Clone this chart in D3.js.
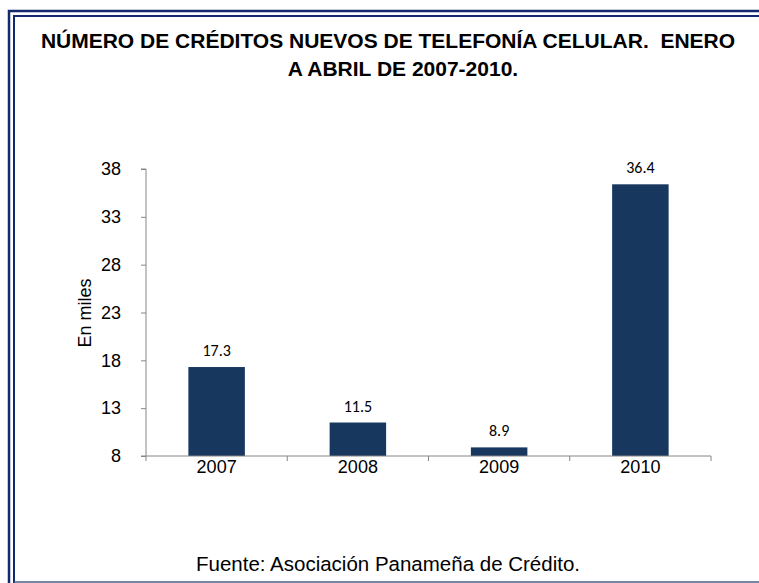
<!DOCTYPE html>
<html>
<head>
<meta charset="utf-8">
<script src="https://cdn.jsdelivr.net/npm/d3@7"></script>
<style>
  body { margin: 0; background: #fff; }
  svg { display: block; }
</style>
</head>
<body>
<script>
var width = 759;
var height = 583;
var barColor = "rgb(23,55,94)";
var axisColor = "rgb(134,134,134)";
var frameColor = "rgb(20,40,110)";
var sansFont = "'Liberation Sans', Arial, sans-serif";

// chart values
var years = ["2007", "2008", "2009", "2010"];
var credits = [17.3, 11.5, 8.9, 36.4];
var yTicks = [8, 13, 18, 23, 28, 33, 38];
var titleLines = ["NÚMERO DE CRÉDITOS NUEVOS DE TELEFONÍA CELULAR.  ENERO", "A ABRIL DE 2007-2010."];
var yTitle = "En miles";
var sourceText = "Fuente: Asociación Panameña de Crédito.";

var plotLeft = 146, plotRight = 711, plotTop = 169, plotBottom = 456;

var svg = d3.select("body").append("svg")
  .attr("width", width)
  .attr("height", height);

svg.append("rect")
  .attr("width", width).attr("height", height)
  .attr("fill", "#fff");

// double frame
svg.append("path")
  .attr("d", "M9," + height + " V11 H" + (width + 5))
  .attr("fill", "none")
  .attr("stroke", frameColor)
  .attr("stroke-width", 2.5);
svg.append("path")
  .attr("d", "M14," + height + " V16 H" + (width + 5))
  .attr("fill", "none")
  .attr("stroke", frameColor)
  .attr("stroke-width", 2);
svg.append("line")
  .attr("x1", 14).attr("x2", width)
  .attr("y1", 582).attr("y2", 582)
  .attr("stroke", "rgb(70,95,140)")
  .attr("stroke-width", 1.5);

var x = d3.scaleBand()
  .domain(years)
  .range([plotLeft, plotRight])
  .paddingInner(0.6)
  .paddingOuter(0.3);

var y = d3.scaleLinear()
  .domain([8, 38])
  .range([plotBottom, plotTop]);

// title
svg.append("text")
  .attr("text-anchor", "middle")
  .attr("font-family", sansFont)
  .attr("font-weight", "bold")
  .attr("font-size", 21)
  .attr("fill", "#000")
  .selectAll("tspan")
  .data(titleLines)
  .enter().append("tspan")
    .attr("x", function(d, i) { return i === 0 ? 388 : 403; })
    .attr("y", function(d, i) { return 48 + i * 28; })
    .style("white-space", "pre")
    .text(function(d) { return d; });

// bars
svg.selectAll("rect.bar")
  .data(credits)
  .enter().append("rect")
    .classed("bar", true)
    .attr("x", function(d, i) { return x(years[i]); })
    .attr("width", x.bandwidth())
    .attr("y", function(d) { return y(d); })
    .attr("height", function(d) { return y(8) - y(d); })
    .attr("fill", barColor);

// value labels
svg.selectAll("text.value")
  .data(credits)
  .enter().append("text")
    .classed("value", true)
    .attr("x", function(d, i) { return x(years[i]) + x.bandwidth() / 2; })
    .attr("y", function(d) { return y(d) - 11; })
    .attr("text-anchor", "middle")
    .attr("font-family", "Carlito, 'Open Sans', sans-serif")
    .attr("font-size", 16)
    .attr("fill", "#000")
    .text(function(d) { return d.toFixed(1); });

// y axis
var yAxis = d3.axisLeft(y)
  .tickValues(yTicks)
  .tickSize(5)
  .tickPadding(20)
  .tickFormat(d3.format("d"));

var gy = svg.append("g")
  .attr("transform", "translate(" + plotLeft + ",0)")
  .call(yAxis);
gy.select(".domain").attr("stroke", axisColor).attr("d", "M-5," + plotTop + "H0V" + plotBottom + "H-5");
gy.selectAll(".tick line").attr("stroke", axisColor);
gy.selectAll(".tick text")
  .attr("font-family", sansFont)
  .attr("font-size", 18)
  .attr("fill", "#000");

// x axis, tick marks sit on the band edges
var xAxis = d3.axisBottom(x).tickSize(0).tickPadding(4);
var gx = svg.append("g")
  .attr("transform", "translate(0," + plotBottom + ")")
  .call(xAxis);
gx.select(".domain").attr("stroke", axisColor).attr("d", "M" + plotLeft + ",0H" + plotRight);
gx.selectAll(".tick text")
  .attr("font-family", sansFont)
  .attr("font-size", 18)
  .attr("fill", "#000");

var edges = d3.range(years.length + 1).map(function(i) {
  return plotLeft + i * (plotRight - plotLeft) / years.length;
});
gx.selectAll("line.edge")
  .data(edges)
  .enter().append("line")
    .classed("edge", true)
    .attr("x1", function(d) { return d; })
    .attr("x2", function(d) { return d; })
    .attr("y1", 0).attr("y2", 5)
    .attr("stroke", axisColor);

// y title
svg.append("text")
  .attr("transform", "translate(91,313) rotate(-90)")
  .attr("text-anchor", "middle")
  .attr("font-family", sansFont)
  .attr("font-size", 18)
  .attr("fill", "#000")
  .text(yTitle);

// source
svg.append("text")
  .attr("x", 388)
  .attr("y", 571)
  .attr("text-anchor", "middle")
  .attr("font-family", sansFont)
  .attr("font-size", 20.5)
  .attr("fill", "#000")
  .text(sourceText);
</script>
</body>
</html>
